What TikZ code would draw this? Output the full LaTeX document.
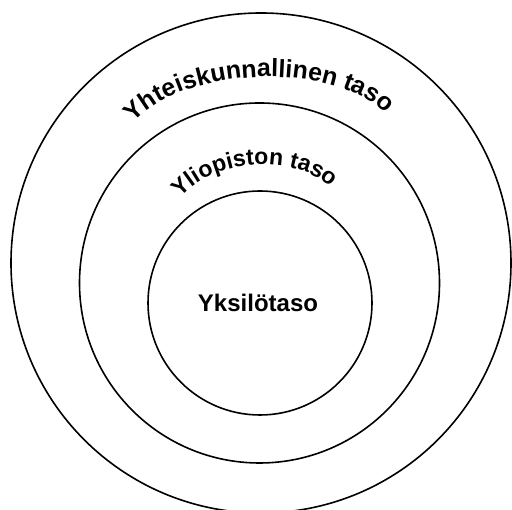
\documentclass[tikz,border=0pt]{standalone}
\usepackage{fontspec}
\setmainfont{Liberation Sans}
\usetikzlibrary{decorations.text}
\begin{document}
\begin{tikzpicture}[x=1pt,y=1pt,
  ring/.style={circle, draw=black, line width=1.6pt, inner sep=0pt},
  archtext/.style={decorate, decoration={text along path, text align=center, text={#1}}}]
\useasboundingbox (0,0) rectangle (512,510);
\node[ring, minimum size=500pt] (outer) at (261,247) {};
\node[ring, minimum size=360pt] (middle) at (259.5,227) {};
\node[ring, minimum size=224pt] (inner) at (260,207) {};
\node[font=\bfseries\fontsize{24}{28}\selectfont] (yksilo) at (258,207.5) {Yksilötaso};
\path[archtext={|\bfseries\fontsize{25}{29}\selectfont|Yhteiskunnallinen taso}, rotate around={2:(261,363)}]
  (261,363) ++(178:138 and 70) arc[start angle=178, end angle=2, x radius=138, y radius=70];
\path[archtext={|\bfseries\fontsize{23}{27}\selectfont|Yliopiston taso}, rotate around={4:(258,285)}]
  (258,285) ++(178:90 and 60) arc[start angle=178, end angle=2, x radius=90, y radius=60];
\end{tikzpicture}
\end{document}
